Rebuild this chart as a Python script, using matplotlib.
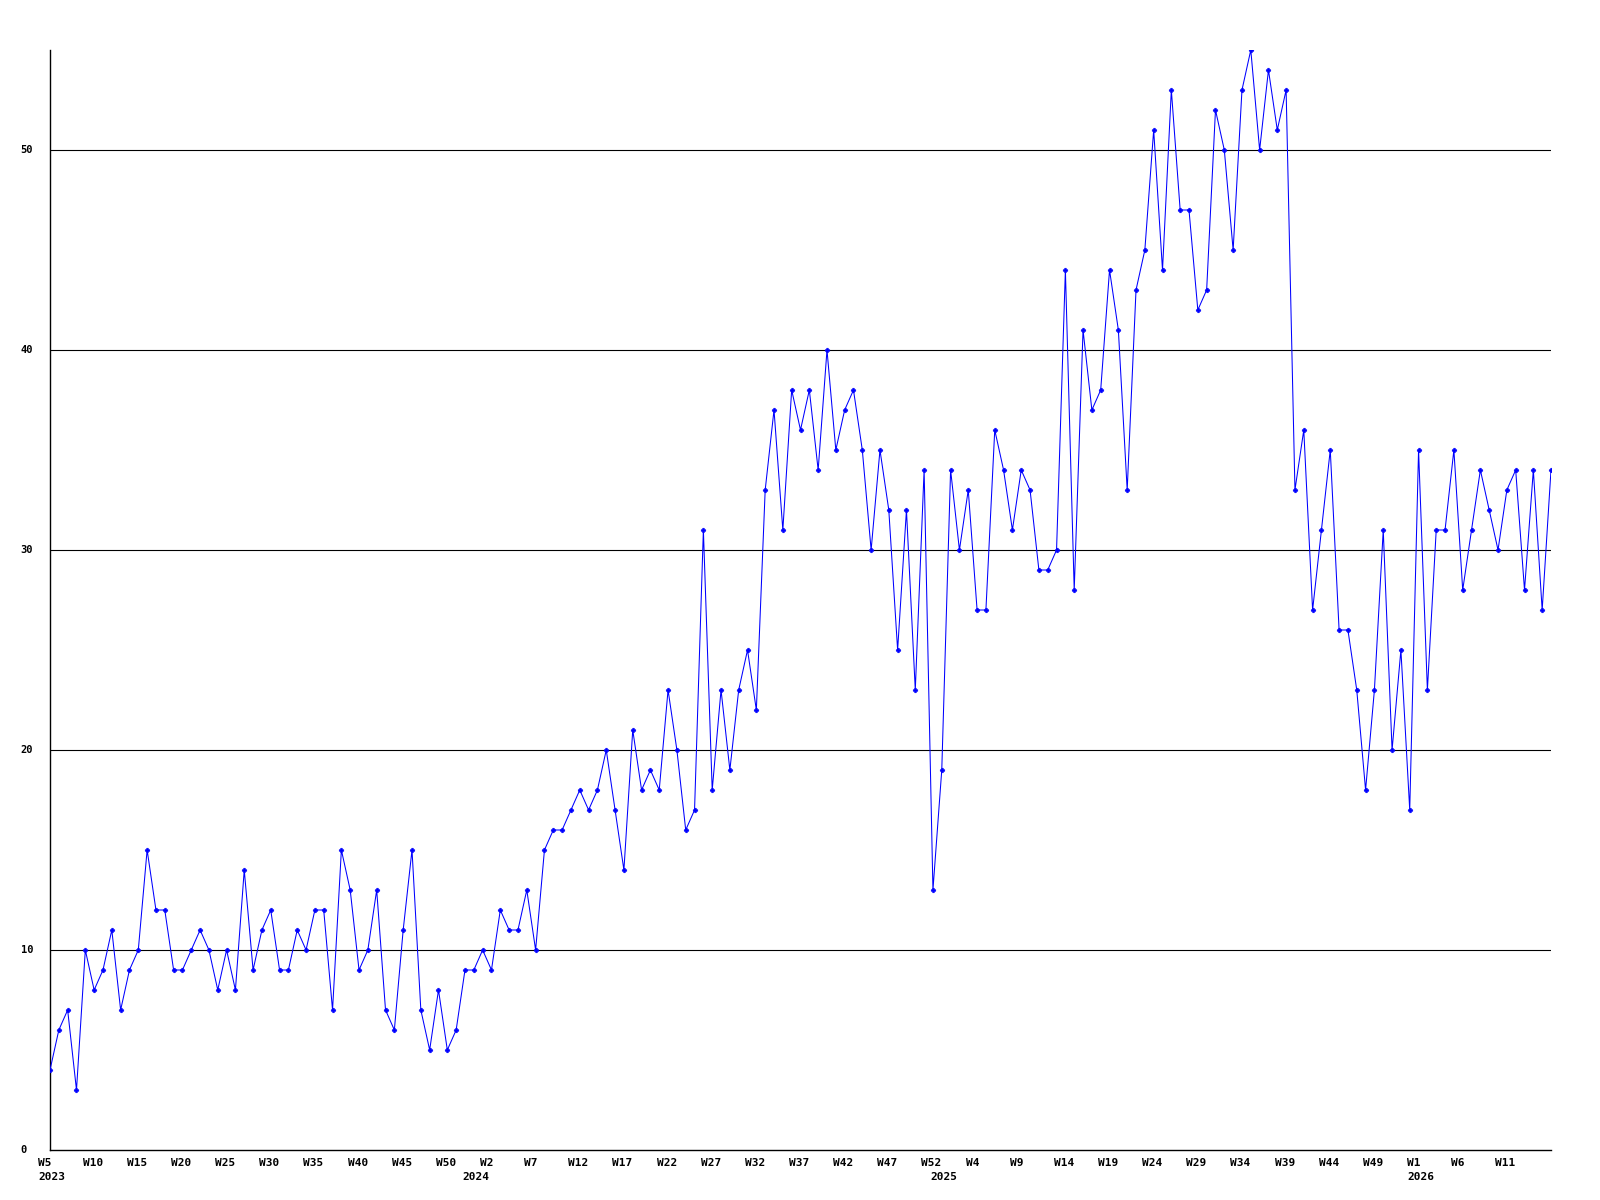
import numpy as np
import matplotlib
matplotlib.use("Agg")
import matplotlib.pyplot as plt

# weekly counts, W5 2023 .. W16 2026
values = [
    4, 6, 7, 3, 10, 8, 9, 11, 7, 9, 10, 15, 12, 12, 9, 9, 10, 11, 10, 8,
    10, 8, 14, 9, 11, 12, 9, 9, 11, 10, 12, 12, 7, 15, 13, 9, 10, 13, 7, 6,
    11, 15, 7, 5, 8,
    5, 6, 9, 9, 10, 9, 12, 11, 11, 13, 10, 15, 16, 16, 17,
    18, 17, 18, 20, 17, 14, 21, 18, 19, 18, 23, 20, 16, 17, 31, 18, 23, 19, 23, 25,
    22, 33,
    37, 31, 38, 36, 38, 34, 40, 35, 37, 38, 35, 30, 35, 32, 25, 32, 23, 34, 13, 19,
    34, 30, 33,
    27, 27, 36, 34, 31, 34, 33, 29, 29, 30, 44, 28, 41, 37, 38, 44, 41, 33, 43, 45,
    51, 44, 53, 47, 47, 42, 43, 52, 50, 45, 53, 55, 50, 54, 51, 53, 33, 36,
    27, 31, 35, 26, 26, 23, 18, 23, 31, 20, 25, 17, 35, 23,
    31, 31, 35, 28, 31, 34, 32, 30, 33, 34, 28, 34, 27, 34,
]

week_labels = [
    "W5", "W10", "W15", "W20", "W25", "W30", "W35", "W40", "W45", "W50",
    "W2", "W7", "W12", "W17", "W22", "W27", "W32", "W37", "W42", "W47", "W52",
    "W4", "W9", "W14", "W19", "W24", "W29", "W34", "W39", "W44", "W49",
    "W1", "W6", "W11",
]
label_every = 5

years = ["2023", "2024", "2025", "2026"]
year_at = [1, 49, 102, 156]   # point index where each year label sits

y_ticks = [0, 10, 20, 30, 40, 50]

x = np.arange(1, len(values) + 1)

fig = plt.figure(figsize=(16, 12), dpi=100)
ax = fig.add_axes([50 / 1600, 1 - 1150 / 1200, 1501 / 1600, 1100 / 1200])

for v in y_ticks[1:]:
    ax.axhline(v, color="black", lw=0.8, zorder=1)

ax.plot(x, values, color="#0000FF", lw=0.75, marker="P", ms=3.2,
        mec="#0000FF", mfc="#0000FF", mew=0.5, zorder=3)

ax.set_xlim(1, len(values))
ax.set_ylim(0, max(values))
ax.set_xticks([])
ax.set_yticks([])
for s in ["top", "right"]:
    ax.spines[s].set_visible(False)
for s in ["left", "bottom"]:
    ax.spines[s].set_linewidth(1.0)
    ax.spines[s].set_color("black")

mono = dict(family="DejaVu Sans Mono", fontweight="bold")

for i, lab in enumerate(week_labels):
    ax.annotate(lab, xy=(1 + i * label_every, 0), xycoords=("data", "axes fraction"),
                xytext=(-11.5, -8), textcoords="offset pixels",
                ha="left", va="top", fontsize=8, annotation_clip=False, **mono)

for yr, pos in zip(years, year_at):
    ax.annotate(yr, xy=(pos, 0), xycoords=("data", "axes fraction"),
                xytext=(-11.5, -22), textcoords="offset pixels",
                ha="left", va="top", fontsize=8, annotation_clip=False, **mono)

for v in y_ticks:
    ax.annotate(str(v), xy=(20.5, v), xycoords=("figure pixels", "data"),
                ha="left", va="center", fontsize=7.5, annotation_clip=False, **mono)

fig.savefig("out.png", dpi=100, facecolor="white")
